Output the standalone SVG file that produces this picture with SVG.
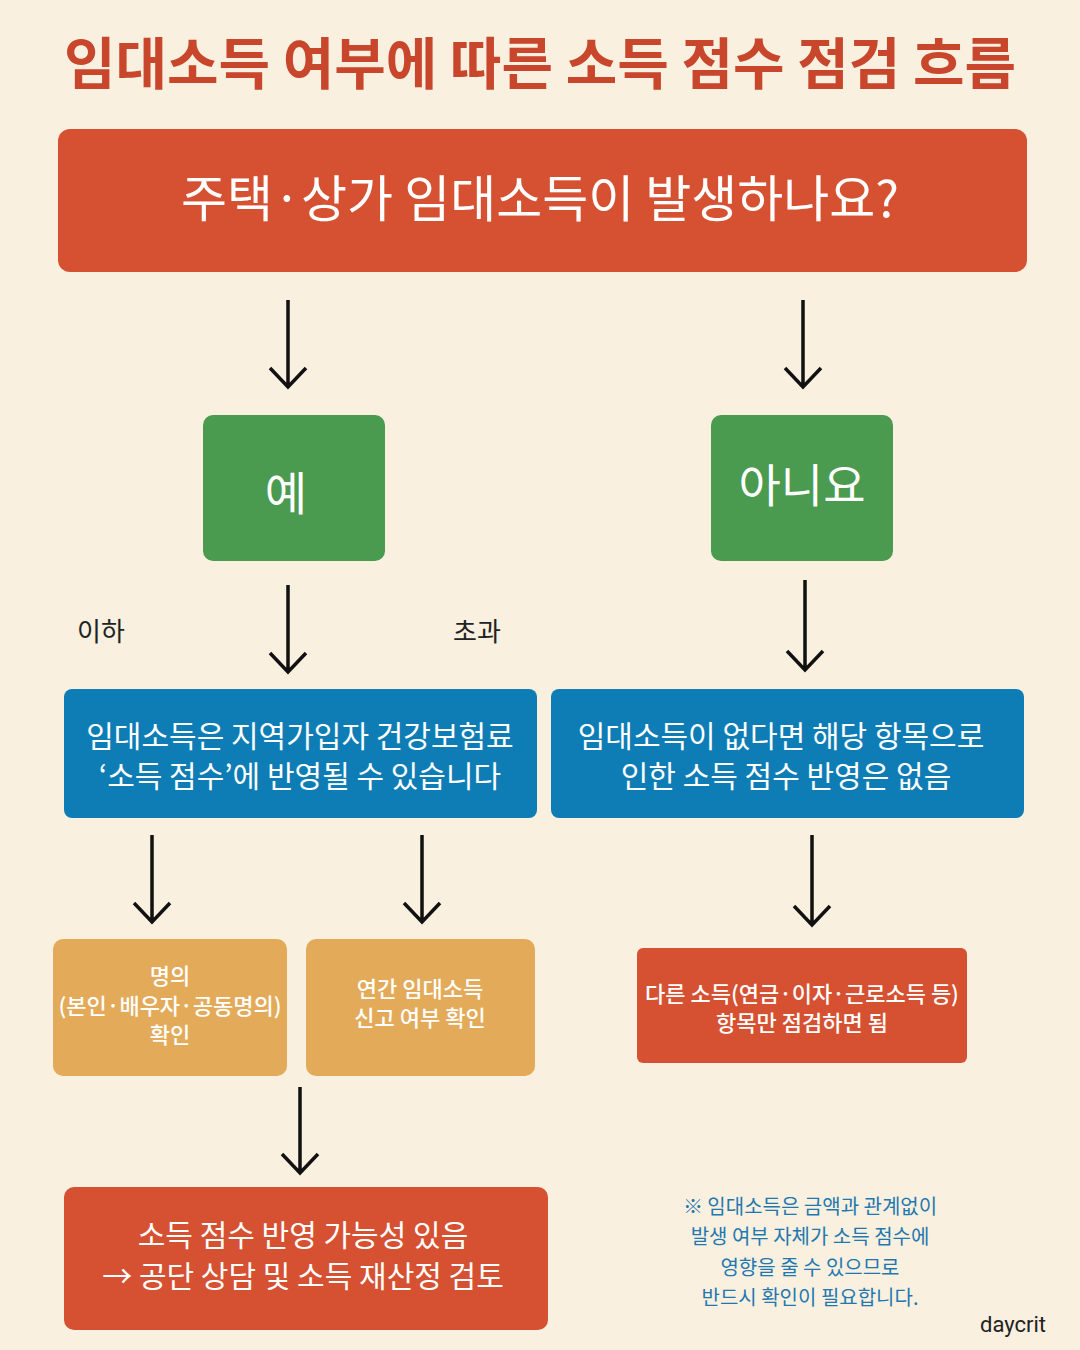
<svg xmlns="http://www.w3.org/2000/svg" width="1080" height="1350" viewBox="0 0 1080 1350">
<style>
.k{font-family:"Noto Sans CJK KR","Noto Sans",sans-serif;text-anchor:middle}
.w{fill:#fff}
.a{stroke:#111;stroke-width:3.5;fill:none}
</style>
<rect width="1080" height="1350" fill="#f9f0df"/>
<text class="k" x="540" y="84" font-size="56" font-weight="700" fill="#c8462b">임대소득 여부에 따른 소득 점수 점검 흐름</text>
<g id="q"><rect x="58" y="129" width="969" height="143" rx="12" fill="#d65132"/><text class="k w" x="540" y="217" font-size="50">주택·상가 임대소득이 발생하나요?</text></g>
<g id="yes"><rect x="203" y="415" width="182" height="146" rx="10" fill="#4a9a4f"/><text class="k w" x="286" y="510" font-size="46">예</text></g>
<g id="no"><rect x="711" y="415" width="182" height="146" rx="10" fill="#4a9a4f"/><text class="k w" x="802" y="502" font-size="46">아니요</text></g>
<g id="b1"><rect x="64" y="689" width="473" height="129" rx="8" fill="#0e7db5"/><text class="k w" x="300" y="747" font-size="30">임대소득은 지역가입자 건강보험료</text><text class="k w" x="300" y="787" font-size="30">‘소득 점수’에 반영될 수 있습니다</text></g>
<g id="b2"><rect x="551" y="689" width="473" height="129" rx="8" fill="#0e7db5"/><text class="k w" x="781" y="747" font-size="30">임대소득이 없다면 해당 항목으로</text><text class="k w" x="786" y="787" font-size="30">인한 소득 점수 반영은 없음</text></g>
<g id="o1" font-weight="500"><rect x="53" y="939" width="234" height="137" rx="10" fill="#e3ab59"/><text class="k w" x="170" y="984" font-size="22">명의</text><text class="k w" x="170" y="1014" font-size="22">(본인·배우자·공동명의)</text><text class="k w" x="170" y="1043" font-size="22">확인</text></g>
<g id="o2" font-weight="500"><rect x="306" y="939" width="229" height="137" rx="10" fill="#e3ab59"/><text class="k w" x="420" y="997" font-size="22">연간 임대소득</text><text class="k w" x="420" y="1026" font-size="22">신고 여부 확인</text></g>
<g id="r1" font-weight="500"><rect x="637" y="948" width="330" height="115" rx="6" fill="#d65132"/><text class="k w" x="802" y="1002" font-size="22">다른 소득(연금·이자·근로소득 등)</text><text class="k w" x="802" y="1031" font-size="22">항목만 점검하면 됨</text></g>
<g id="r2"><rect x="64" y="1187" width="484" height="143" rx="10" fill="#d65132"/><text class="k w" x="303" y="1246" font-size="30">소득 점수 반영 가능성 있음</text><text class="k w" x="303" y="1287" font-size="30">→ 공단 상담 및 소득 재산정 검토</text></g>
<g id="labels" class="k" font-size="26" fill="#222"><text x="101" y="641">이하</text><text x="477" y="641">초과</text></g>
<g id="note" class="k" font-size="20" fill="#1f78b0"><text x="810" y="1214">※ 임대소득은 금액과 관계없이</text><text x="810" y="1244">발생 여부 자체가 소득 점수에</text><text x="810" y="1275">영향을 줄 수 있으므로</text><text x="810" y="1305">반드시 확인이 필요합니다.</text></g>
<text x="1013" y="1332" font-family="Roboto,sans-serif" font-size="22" fill="#222" text-anchor="middle">daycrit</text>
<g id="connectors" class="a">
<path d="M288 300V387M270 368L288 387L306 368"/>
<path d="M803 300V387M785 368L803 387L821 368"/>
<path d="M288 585V672M270 653L288 672L306 653"/>
<path d="M805 580V670M787 651L805 670L823 651"/>
<path d="M152 835V922M134 903L152 922L170 903"/>
<path d="M422 835V922M404 903L422 922L440 903"/>
<path d="M812 835V925M794 906L812 925L830 906"/>
<path d="M300 1087V1173M282 1154L300 1173L318 1154"/>
</g>
</svg>
